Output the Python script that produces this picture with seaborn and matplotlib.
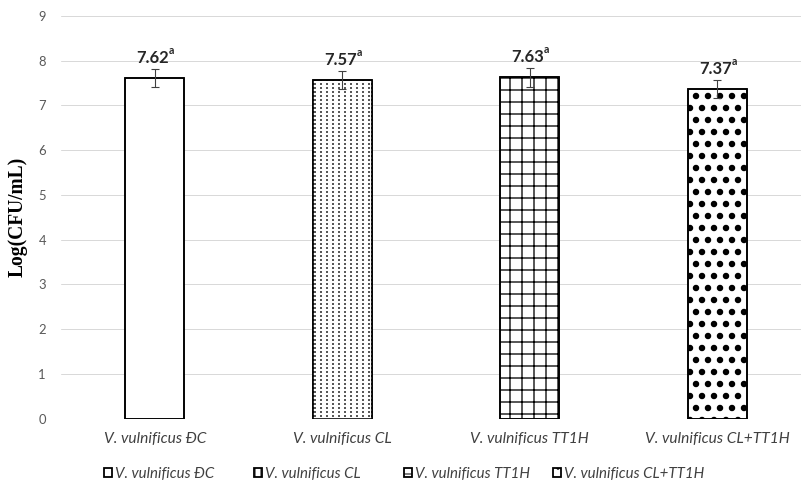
import matplotlib
matplotlib.use("Agg")
import matplotlib.pyplot as plt
import matplotlib.patches as mpatches
import seaborn as sns
import pandas as pd

groups = ["V. vulnificus ĐC", "V. vulnificus CL", "V. vulnificus TT1H", "V. vulnificus CL+TT1H"]
means = [7.62, 7.57, 7.63, 7.37]
errs = [0.20, 0.20, 0.21, 0.21]
letters = ["a", "a", "a", "a"]
hatches = ["", "||", "+", "."]
hatch_lw = [1.0, 1.3, 1.3, 4.0]

df = pd.DataFrame({"group": groups, "logcfu": means})

sns.set_style("white")
plt.rcParams["font.family"] = ["Lato", "DejaVu Sans"]

# dpi 72 so that hatch spacing comes out close to the Excel patterns
fig = plt.figure(figsize=(801 / 72, 488 / 72), dpi=72)
ax = fig.add_axes([61 / 801, 69.3 / 488, 750 / 801, 402.7 / 488])

sns.barplot(data=df, x="group", y="logcfu", color="white", width=0.315,
            errorbar=None, edgecolor="black", linewidth=1.6, ax=ax, zorder=3)


def set_hlw(p, lw):
    if hasattr(p, "set_hatch_linewidth"):
        p.set_hatch_linewidth(lw)
    else:
        p._hatch_linewidth = lw


bars = list(ax.patches)
for p, h, lw in zip(bars, hatches, hatch_lw):
    p.set_hatch(h)
    set_hlw(p, lw)

# break the vertical lines of the CL bar into dashes (white horizontal hatch on top)
b = bars[1]
cut = mpatches.Rectangle((b.get_x(), b.get_y()), b.get_width(), b.get_height(),
                         facecolor="none", edgecolor="white", hatch="---", linewidth=0, zorder=3.1)
set_hlw(cut, 2.0)
ax.add_patch(cut)
for p in bars:
    ax.add_patch(mpatches.Rectangle((p.get_x(), p.get_y()), p.get_width(), p.get_height(),
                                    facecolor="none", edgecolor="black", linewidth=1.6, zorder=3.2))

ax.errorbar(range(len(groups)), means, yerr=errs, fmt="none", ecolor="#404040",
            elinewidth=1.1, capsize=4, capthick=1.1, zorder=4)

for i, (m, e, l) in enumerate(zip(means, errs, letters)):
    t = ax.annotate(f"{m:.2f}", xy=(i, m + e), xytext=(-2, 3), textcoords="offset points",
                    ha="center", va="bottom", fontsize=16.5, fontweight="bold", color="#262626")
    ax.annotate(l, xy=(1, 0.62), xycoords=t, ha="left", va="bottom",
                fontsize=10.5, fontweight="bold", color="#262626")

ax.set_ylim(0, 9)
ax.set_xlim(-0.5, 3.5)
ax.set_yticks(range(10))
ax.yaxis.grid(True, color="#d9d9d9", linewidth=1)
ax.set_axisbelow(True)
for s in ax.spines.values():
    s.set_visible(False)
ax.tick_params(axis="both", length=0, labelsize=13, labelcolor="#595959")
ax.tick_params(axis="y", pad=15)
ax.tick_params(axis="x", pad=13, labelsize=15.5)
for lab in ax.get_xticklabels():
    lab.set_fontstyle("italic")
    lab.set_color("#404040")

ax.set_xlabel("")
ax.set_ylabel("Log(CFU/mL)", family=["Liberation Serif"], fontweight="bold",
              fontsize=19.5, color="black", labelpad=0)
ax.yaxis.set_label_coords(-33 / 750, 0.5)

# Excel puts legend entries in equal-width slots
slot_x = [104, 254, 404, 553]
for g, h, sx in zip(groups, hatches, slot_x):
    hp = mpatches.Patch(facecolor="white", edgecolor="black", hatch=h, linewidth=1.8, label=g)
    set_hlw(hp, 1.0)
    leg = fig.legend(handles=[hp], loc="center left", bbox_to_anchor=(sx / 801, 14 / 488),
                     frameon=False, borderpad=0, borderaxespad=0, handlelength=0.55,
                     handleheight=0.55, handletextpad=0.2, prop={"style": "italic", "size": 15})
    for txt in leg.get_texts():
        txt.set_color("#404040")

fig.savefig("out.png", dpi=72)
